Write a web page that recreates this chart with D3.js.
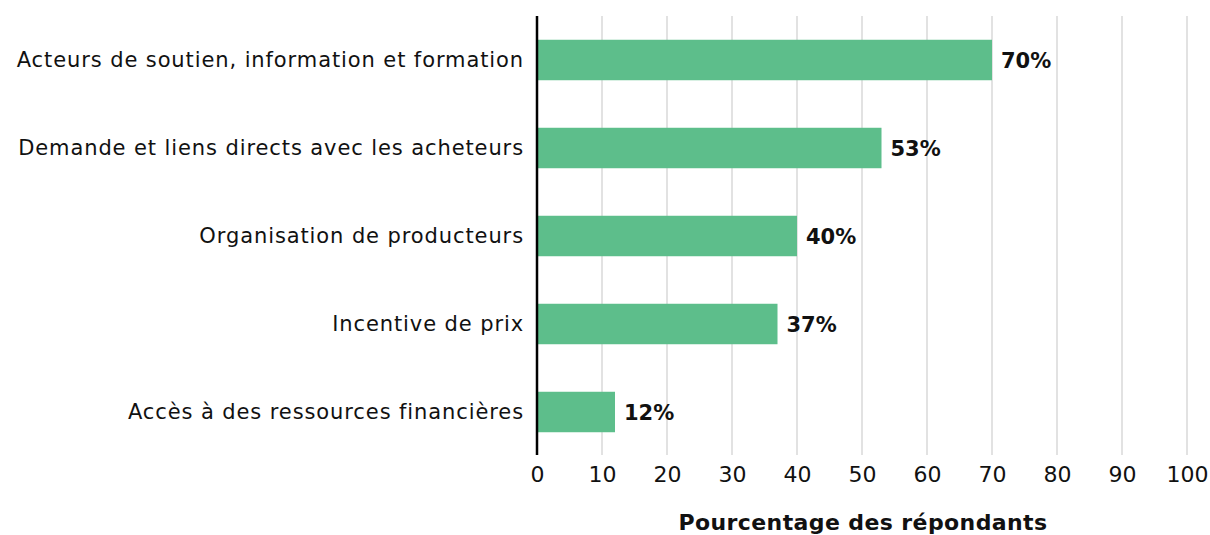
<!DOCTYPE html>
<html>
<head>
<meta charset="utf-8">
<script src="https://cdn.jsdelivr.net/npm/d3@7"></script>
<style>
  body { margin: 0; background: #fff; }
  text { font-family: "DejaVu Sans", sans-serif; fill: #111; }
</style>
</head>
<body>
<div id="chart"></div>
<script>
// data
const categories = [
    "Acteurs de soutien, information et formation",
    "Demande et liens directs avec les acheteurs",
    "Organisation de producteurs",
    "Incentive de prix",
    "Accès à des ressources financières"
];
const values = [70, 53, 40, 37, 12];
const xTicks = [0, 10, 20, 30, 40, 50, 60, 70, 80, 90, 100];
const axisTitle = "Pourcentage des répondants";

const width = 1210, height = 535;
const margin = {top: 16, right: 23, bottom: 79, left: 537};
const font = "'DejaVu Sans', sans-serif";

const svg = d3.select("#chart").append("svg")
    .attr("width", width)
    .attr("height", height);

const x = d3.scaleLinear()
    .domain([0, 100])
    .range([margin.left, width - margin.right]);

const y = d3.scaleBand()
    .domain(categories)
    .range([margin.top, height - margin.bottom])
    .paddingInner(0.54)
    .paddingOuter(0.27);

// gridlines
svg.append("g")
    .selectAll("line")
    .data(xTicks.filter(d => d > 0))
    .enter().append("line")
    .attr("x1", d => x(d))
    .attr("x2", d => x(d))
    .attr("y1", margin.top)
    .attr("y2", height - margin.bottom - 1)
    .attr("stroke", "#d9d9d9")
    .attr("stroke-width", 1.5);

// bars
svg.append("g")
    .selectAll("rect")
    .data(values)
    .enter().append("rect")
    .attr("x", x(0))
    .attr("y", (d, i) => y(categories[i]))
    .attr("width", d => x(d) - x(0))
    .attr("height", y.bandwidth())
    .attr("fill", "#5dbe8b");

// value labels
svg.append("g")
    .selectAll("text")
    .data(values)
    .enter().append("text")
    .attr("x", d => x(d) + 9)
    .attr("y", (d, i) => y(categories[i]) + y.bandwidth() / 2)
    .attr("dy", "0.36em")
    .style("font-size", "21px")
    .style("font-weight", "bold")
    .text(d => d + "%");

// y axis (category labels)
const yAxis = svg.append("g")
    .attr("transform", `translate(${x(0)},0)`)
    .call(d3.axisLeft(y).tickSize(0).tickPadding(13));
yAxis.select(".domain").remove();
yAxis.selectAll("text")
    .style("font-size", "21px")
    .style("letter-spacing", "0.9px")
    .style("font-family", font)
    .attr("fill", "#111");

// vertical baseline
svg.append("line")
    .attr("x1", x(0))
    .attr("x2", x(0))
    .attr("y1", margin.top)
    .attr("y2", height - margin.bottom - 1)
    .attr("stroke", "#000")
    .attr("stroke-width", 2.5);

// x axis
const xAxis = svg.append("g")
    .attr("transform", `translate(0,${height - margin.bottom})`)
    .call(d3.axisBottom(x).tickValues(xTicks).tickSize(0).tickPadding(10));
xAxis.select(".domain").remove();
xAxis.selectAll("text")
    .style("font-size", "22px")
    .style("font-family", font)
    .attr("fill", "#111");

// axis title
svg.append("text")
    .attr("x", (x(0) + x(100)) / 2 + 1)
    .attr("y", 530)
    .attr("text-anchor", "middle")
    .style("font-size", "22px")
    .style("letter-spacing", "0.4px")
    .style("font-weight", "bold")
    .text(axisTitle);
</script>
</body>
</html>
